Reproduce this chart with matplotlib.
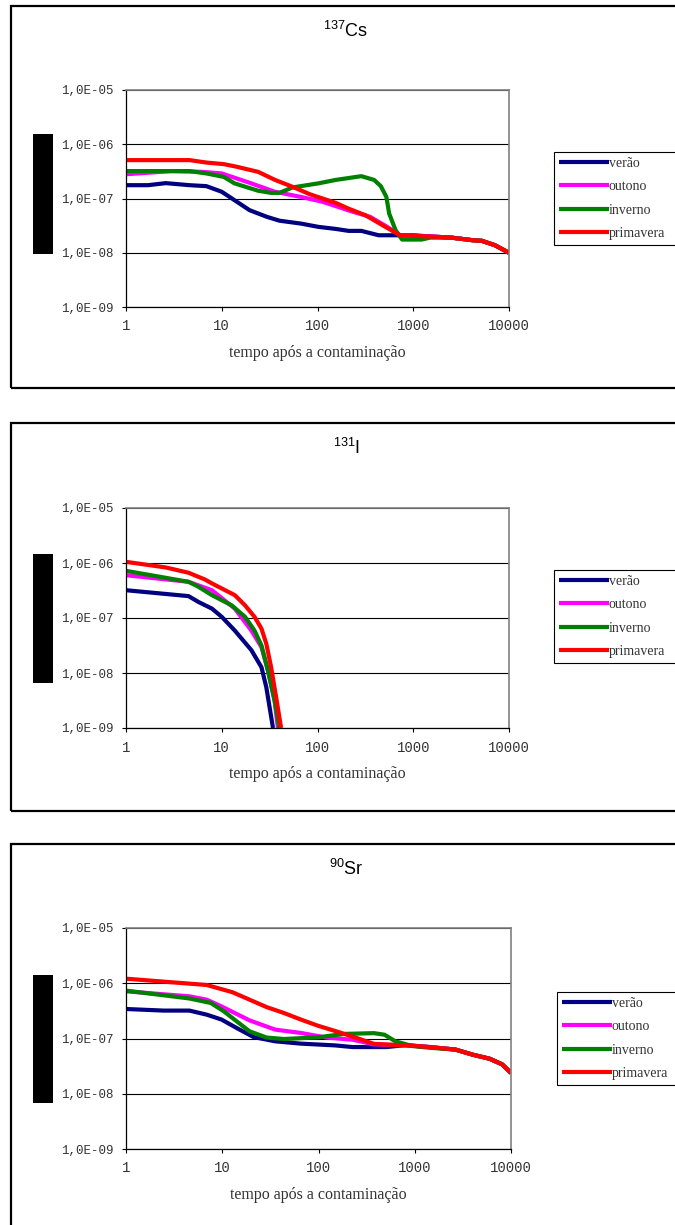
import matplotlib
matplotlib.use('Agg')
import matplotlib.pyplot as plt
from matplotlib.patches import Rectangle

plt.rcParams['mathtext.fontset'] = 'custom'
plt.rcParams['mathtext.rm'] = 'Liberation Sans'

W, H = 675, 1225

seasons = ['verão', 'outono', 'inverno', 'primavera']
colors = ['#000080', '#FF00FF', '#008000', '#FF0000']
titles = [r'$^{\mathregular{137}}$Cs', r'$^{\mathregular{131}}$I', r'$^{\mathregular{90}}$Sr']
xticks = [1, 10, 100, 1000, 10000]
xtick_labels = ['1', '10', '100', '1000', '10000']
yticks = [1e-9, 1e-8, 1e-7, 1e-6, 1e-5]
ytick_labels = ['1,0E-09', '1,0E-08', '1,0E-07', '1,0E-06', '1,0E-05']
xlabel = 'tempo após a contaminação'

# Cs-137
cs_verao_t = [1, 1.7, 2.6, 4.6, 6.9, 10, 13.6, 19.5, 29.5, 40, 67, 102, 155, 211, 287, 435, 1000, 1360, 2500, 4200, 5200, 7100, 10000]
cs_verao_v = [1.76e-7, 1.76e-7, 1.92e-7, 1.76e-7, 1.69e-7, 1.33e-7, 9.3e-8, 6.1e-8, 4.6e-8, 3.9e-8, 3.45e-8, 3.0e-8,
              2.75e-8, 2.53e-8, 2.53e-8, 2.1e-8, 2.1e-8, 2.02e-8, 1.9e-8, 1.7e-8, 1.66e-8, 1.38e-8, 1.0e-8]
cs_outono_t = [1, 3.0, 6.2, 10, 19.5, 36, 67, 113, 233, 354, 535, 730, 1360, 2500, 4200, 5200, 7100, 10000]
cs_outono_v = [2.8e-7, 3.2e-7, 3.1e-7, 2.9e-7, 1.95e-7, 1.33e-7, 1.07e-7, 8.7e-8, 5.7e-8, 4.6e-8, 3.0e-8, 2.1e-8,
               2.02e-8, 1.9e-8, 1.7e-8, 1.66e-8, 1.38e-8, 1.0e-8]
cs_inverno_t = [1, 4.6, 6.9, 10.5, 13.6, 24, 32.6, 40, 55, 102, 155, 287, 390, 458, 524, 560, 654, 765, 1220, 1500,
                2500, 4200, 5200, 7100, 10000]
cs_inverno_v = [3.2e-7, 3.2e-7, 2.9e-7, 2.5e-7, 1.9e-7, 1.39e-7, 1.27e-7, 1.27e-7, 1.6e-7, 1.9e-7, 2.2e-7, 2.58e-7,
                2.2e-7, 1.69e-7, 1.07e-7, 5.3e-8, 2.6e-8, 1.75e-8, 1.75e-8, 1.9e-8, 1.9e-8, 1.7e-8, 1.66e-8, 1.38e-8, 1.0e-8]
cs_primavera_t = [1, 4.6, 6.9, 10.5, 14.3, 24, 36, 55, 83, 155, 211, 318, 480, 730, 1360, 2500, 4200, 5200, 7100, 10000]
cs_primavera_v = [5.1e-7, 5.1e-7, 4.6e-7, 4.3e-7, 3.85e-7, 3.1e-7, 2.2e-7, 1.64e-7, 1.2e-7, 8.3e-8, 6.5e-8, 4.9e-8,
                  3.2e-8, 2.1e-8, 2.0e-8, 1.9e-8, 1.7e-8, 1.66e-8, 1.38e-8, 1.0e-8]

# I-131
i_verao_t = [1, 4.5, 5.7, 7.9, 10, 13.7, 20.4, 26, 29.2, 34.3]
i_verao_v = [3.2e-7, 2.5e-7, 1.96e-7, 1.48e-7, 1.05e-7, 5.9e-8, 2.6e-8, 1.27e-8, 5.5e-9, 1.0e-9]
i_outono_t = [1, 4.5, 7.9, 13.7, 20.4, 26, 30.4, 35.7, 38.6]
i_outono_v = [6.0e-7, 4.55e-7, 3.2e-7, 1.48e-7, 5.9e-8, 2.95e-8, 1.1e-8, 3.1e-9, 1.0e-9]
i_inverno_t = [1, 4.5, 5.7, 7.9, 12.7, 17.5, 22, 26, 30.4, 35.7, 40]
i_inverno_v = [7.2e-7, 4.55e-7, 3.7e-7, 2.6e-7, 1.7e-7, 1.05e-7, 5.9e-8, 3.16e-8, 1.1e-8, 3.1e-9, 1.0e-9]
i_primavera_t = [1, 2.6, 4.5, 6.7, 7.9, 13.7, 17.5, 22, 26, 29.2, 32.8, 37, 41.7]
i_primavera_v = [1.05e-6, 8.3e-7, 6.65e-7, 5.0e-7, 4.25e-7, 2.6e-7, 1.7e-7, 1.05e-7, 6.4e-8, 3.4e-8, 1.27e-8, 3.6e-9, 1.0e-9]

# Sr-90
sr_verao_t = [1, 2.46, 4.56, 6.9, 9.84, 14.1, 21.2, 35.4, 65.7, 149, 226, 510, 800, 1430, 2650, 3990, 6000, 8100, 10000]
sr_verao_v = [3.42e-7, 3.2e-7, 3.2e-7, 2.7e-7, 2.2e-7, 1.55e-7, 1.06e-7, 8.9e-8, 8.07e-8, 7.5e-8, 7.0e-8, 7.0e-8,
              7.6e-8, 7.0e-8, 6.3e-8, 5.1e-8, 4.3e-8, 3.4e-8, 2.38e-8]
sr_outono_t = [1, 4.56, 6.9, 9.84, 19.2, 35.4, 65.7, 121, 226, 377, 568, 944, 1430, 2650, 3990, 6000, 8100, 10000]
sr_outono_v = [7.15e-7, 5.8e-7, 5.05e-7, 3.8e-7, 2.13e-7, 1.45e-7, 1.26e-7, 1.04e-7, 9.5e-8, 7.8e-8, 7.7e-8, 7.4e-8,
               7.0e-8, 6.3e-8, 5.1e-8, 4.3e-8, 3.4e-8, 2.38e-8]
sr_inverno_t = [1, 4.56, 7.6, 10.4, 19.2, 28.9, 43.6, 99, 183, 377, 485, 628, 944, 1430, 2650, 3990, 6000, 8100, 10000]
sr_inverno_v = [7.35e-7, 5.3e-7, 4.4e-7, 3.1e-7, 1.35e-7, 1.04e-7, 9.8e-8, 1.05e-7, 1.21e-7, 1.25e-7, 1.17e-7, 8.9e-8,
                7.3e-8, 6.8e-8, 6.3e-8, 5.1e-8, 4.3e-8, 3.4e-8, 2.38e-8]
sr_primavera_t = [1, 3.03, 6.9, 12.7, 19.2, 28.9, 43.6, 65.7, 99, 166, 250, 377, 568, 944, 1430, 2650, 3990, 6000, 8100, 10000]
sr_primavera_v = [1.21e-6, 1.04e-6, 9.3e-7, 6.9e-7, 5.05e-7, 3.7e-7, 2.9e-7, 2.2e-7, 1.7e-7, 1.29e-7, 1.02e-7, 8.0e-8,
                  7.7e-8, 7.4e-8, 7.0e-8, 6.3e-8, 5.1e-8, 4.3e-8, 3.4e-8, 2.38e-8]

series = [
    [(cs_verao_t, cs_verao_v), (cs_outono_t, cs_outono_v), (cs_inverno_t, cs_inverno_v), (cs_primavera_t, cs_primavera_v)],
    [(i_verao_t, i_verao_v), (i_outono_t, i_outono_v), (i_inverno_t, i_inverno_v), (i_primavera_t, i_primavera_v)],
    [(sr_verao_t, sr_verao_v), (sr_outono_t, sr_outono_v), (sr_inverno_t, sr_inverno_v), (sr_primavera_t, sr_primavera_v)],
]

# pixel layout of each block: frame top/bottom, plot box, black bar, legend top-left, title y
layout = [
    dict(frame=(6, 388), plot=(126, 90, 509, 307), bar=(134, 254), leg=(554, 152), title=31),
    dict(frame=(423, 811), plot=(126, 508, 509, 728), bar=(554, 683), leg=(554, 570), title=448),
    dict(frame=(844, 1260), plot=(126, 928, 511, 1149), bar=(975, 1103), leg=(557, 992), title=869),
]


def fx(px):
    return px / W


def fy(py):
    return 1 - py / H


fig = plt.figure(figsize=(W / 100, H / 100), dpi=100)

ymono = {'family': 'Liberation Mono', 'size': 9}
xmono = {'family': 'Liberation Mono', 'size': 10}

for k, lay in enumerate(layout):
    top, bot = lay['frame']
    fig.patches.append(Rectangle((fx(11), fy(bot)), fx(720) - fx(11), fy(top) - fy(bot),
                                 transform=fig.transFigure, facecolor='none',
                                 edgecolor='black', linewidth=1.6, zorder=0))
    b0, b1 = lay['bar']
    fig.patches.append(Rectangle((fx(33), fy(b1)), fx(20), fy(b0) - fy(b1),
                                 transform=fig.transFigure, facecolor='black',
                                 edgecolor='none'))

    l, t, r, b = lay['plot']
    ax = fig.add_axes([fx(l), fy(b), fx(r) - fx(l), fy(t) - fy(b)])
    ax.set_xscale('log')
    ax.set_yscale('log')
    for (tt, vv), c, s in zip(series[k], colors, seasons):
        ax.plot(tt, vv, color=c, lw=3, label=s, solid_capstyle='butt')
    ax.set_xlim(1, 10000)
    ax.set_ylim(1e-9, 1e-5)
    ax.set_xticks(xticks)
    ax.set_xticklabels(xtick_labels, fontdict=xmono, color='#333333')
    ax.set_yticks(yticks)
    ax.set_yticklabels(ytick_labels, fontdict=ymono, color='#333333')
    ax.minorticks_off()
    ax.tick_params(axis='y', direction='out', length=3, width=0.8, pad=6)
    ax.tick_params(axis='x', direction='out', length=3, width=0.8, pad=6)
    ax.set_axisbelow(True)
    ax.grid(axis='y', color='black', lw=0.8)
    for side in ['top', 'right']:
        ax.spines[side].set_color('#808080')
        ax.spines[side].set_linewidth(1.2)
    for side in ['left', 'bottom']:
        ax.spines[side].set_color('black')
        ax.spines[side].set_linewidth(0.9)

    ax.set_xlabel(xlabel, family='Liberation Serif', size=11.5, color='#333333', va='center')
    ax.xaxis.set_label_coords(0.5, -46 / (b - t))

    fig.text(fx(346), fy(lay['title']), titles[k], ha='center', va='center',
             family='Liberation Sans', size=13)

    lx, ly = lay['leg']
    leg = ax.legend(loc='upper left', bbox_to_anchor=(fx(lx), fy(ly), fx(690) - fx(lx), 0),
                    bbox_transform=fig.transFigure, borderaxespad=0, mode='expand',
                    prop={'family': 'Liberation Serif', 'size': 10},
                    handlelength=3.6, handletextpad=0.0, labelspacing=0.75,
                    borderpad=0.35, fancybox=False, framealpha=1,
                    edgecolor='black')
    leg.get_frame().set_linewidth(0.8)
    for txt in leg.get_texts():
        txt.set_color('#333333')

fig.savefig('out.png', dpi=100)
